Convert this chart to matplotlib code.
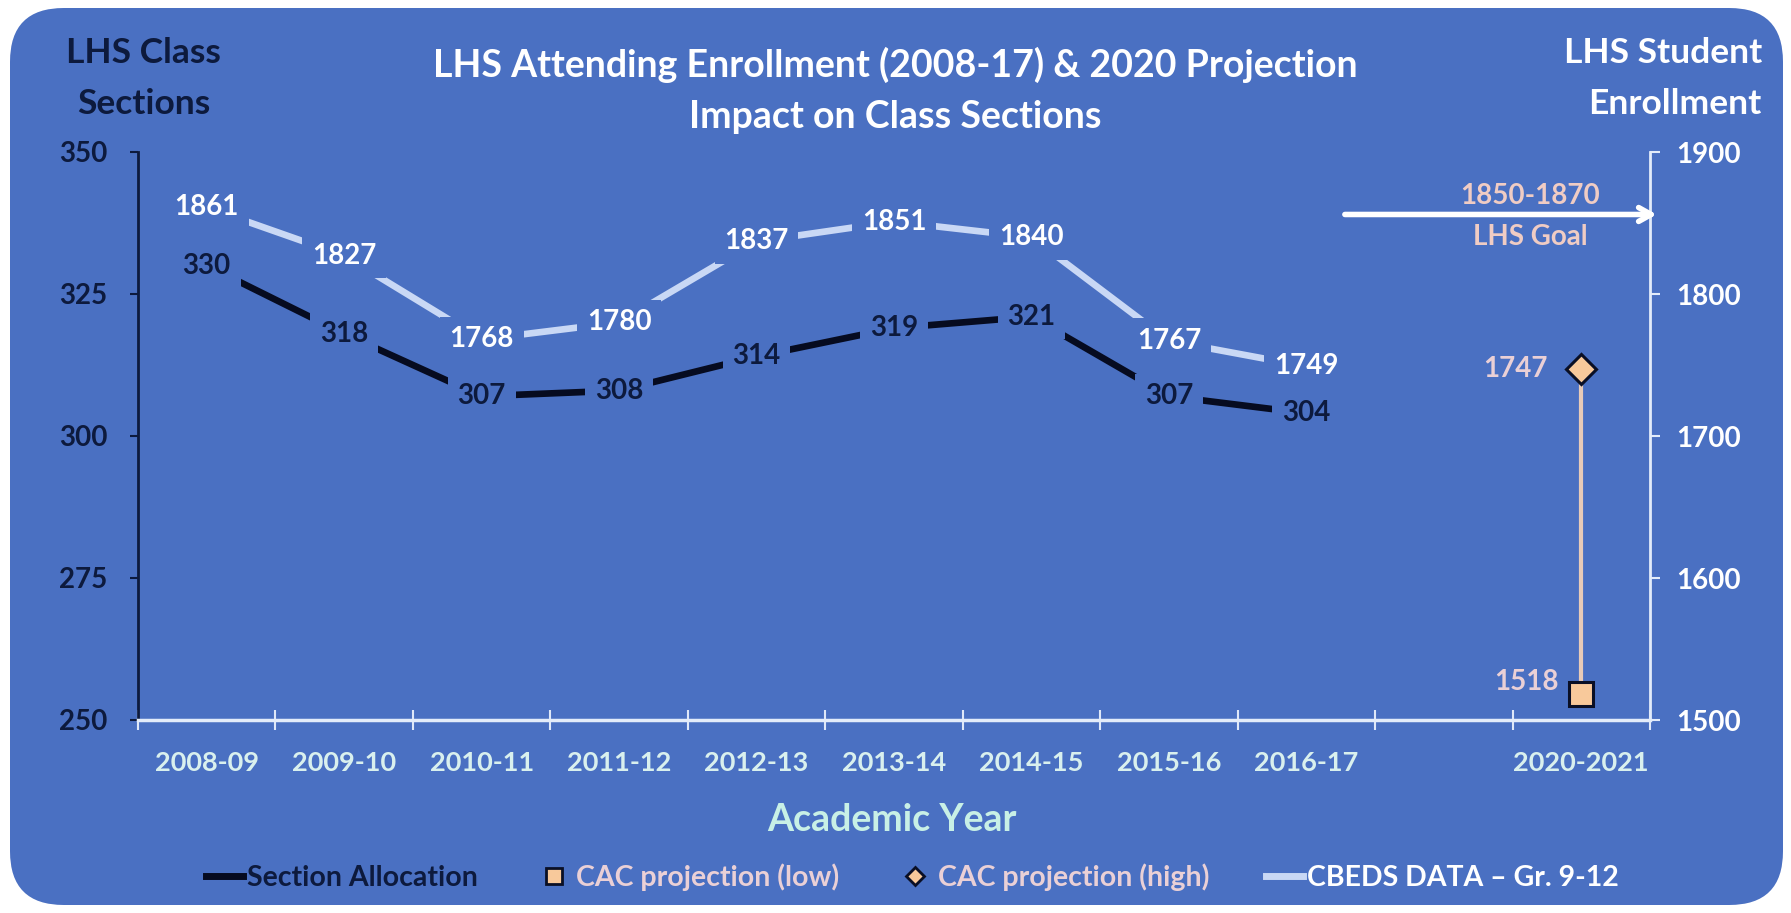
import matplotlib
matplotlib.use("Agg")
import matplotlib.pyplot as plt
from matplotlib.patches import FancyBboxPatch
from matplotlib.lines import Line2D

plt.rcParams['font.family'] = ['Lato', 'DejaVu Sans']
plt.rcParams['font.weight'] = 'bold'

# ---------------- data ----------------
categories = ["2008-09", "2009-10", "2010-11", "2011-12", "2012-13", "2013-14",
              "2014-15", "2015-16", "2016-17", "", "2020-2021"]
years_idx = list(range(9))
section_allocation = [330, 318, 307, 308, 314, 319, 321, 307, 304]
cbeds_enrollment = [1861, 1827, 1768, 1780, 1837, 1851, 1840, 1767, 1749]
proj_idx = 10
cac_low = 1518
cac_high = 1747
goal_text = "1850-1870"
goal_value = 1856
left_ticks = [250, 275, 300, 325, 350]
right_ticks = [1500, 1600, 1700, 1800, 1900]

# ---------------- colours ----------------
BG = '#4a70c2'
NAVY = '#0d1a3d'
SECT = '#060b20'
CBEDS = '#c9d8f5'
PEACH = '#f8c99b'
PINK = '#ead0d6'
CYAN = '#d9f0ee'

W, H = 1791, 913
S = W / 1568.0
fig = plt.figure(figsize=(W / 100, H / 100), dpi=100)
fig.patch.set_facecolor('white')
bg = FancyBboxPatch((10 / W, 8 / H), (1773) / W, (897) / H,
                    boxstyle="round,pad=0,rounding_size=0.03",
                    transform=fig.transFigure, facecolor=BG, edgecolor='none',
                    zorder=-10, mutation_aspect=W / H)
fig.patches.append(bg)

ax = fig.add_axes([138 / W, 1 - 720 / H, (1650 - 138) / W, (720 - 152) / H])
ax.set_facecolor('none')
ax2 = ax.twinx()

# left axis
ax.set_xlim(-0.5, 10.5)
ax.set_ylim(250, 350)
ax.set_yticks(left_ticks)
ax.set_yticklabels([str(t) for t in left_ticks], fontsize=20, color=NAVY, fontweight='bold')
ax.tick_params(axis='y', colors=NAVY, length=6, width=1.5, direction='out', pad=16)
for lab in ax.get_yticklabels():
    lab.set_color(NAVY)

ax.set_xticks(range(len(categories)))
ax.set_xticklabels(categories, fontsize=19.5, color=CYAN, fontweight='bold')
ax.set_xticks([i - 0.5 for i in range(len(categories) + 1)], minor=True)
ax.tick_params(axis='x', which='major', length=0, pad=22)
ax.tick_params(axis='x', which='minor', length=14, width=1.5, direction='inout', color='#dfe8f8')

for s in ['top']:
    ax.spines[s].set_visible(False)
    ax2.spines[s].set_visible(False)
ax.spines['left'].set_color(NAVY)
ax.spines['left'].set_linewidth(2)
ax.spines['bottom'].set_color('#e3ecfa')
ax.spines['bottom'].set_linewidth(2.5)
ax.spines['right'].set_visible(False)
ax2.spines['left'].set_visible(False)
ax2.spines['bottom'].set_visible(False)
ax2.spines['right'].set_color('#e3ecfa')
ax2.spines['right'].set_linewidth(2)

ax2.set_ylim(1500, 1900)
ax2.set_yticks(right_ticks)
ax2.set_yticklabels([str(t) for t in right_ticks], fontsize=20, color='white', fontweight='bold')
ax2.tick_params(axis='y', colors='#e3ecfa', length=7, width=1.5, direction='out', pad=12)
for lab in ax2.get_yticklabels():
    lab.set_color('white')

# series
ax.plot(years_idx, section_allocation, color=SECT, lw=4.8, solid_capstyle='butt', zorder=3)
ax2.plot(years_idx, cbeds_enrollment, color=CBEDS, lw=4.8, solid_capstyle='butt', zorder=3)

lbl_box = dict(boxstyle='square,pad=0.35', facecolor=BG, edgecolor='none')
for x, v in zip(years_idx, section_allocation):
    ax.text(x, v, str(v), ha='center', va='center', fontsize=20, color=NAVY,
            fontweight='bold', bbox=lbl_box, zorder=5)
for x, v in zip(years_idx, cbeds_enrollment):
    ax2.text(x, v, str(v), ha='center', va='center', fontsize=20, color='white',
             fontweight='bold', bbox=lbl_box, zorder=5)

# projection
ax2.plot([proj_idx, proj_idx], [cac_low, cac_high], color='#e8cbb8', lw=3, zorder=4)
ax2.plot([proj_idx], [cac_low], marker='s', ms=17, color=PEACH, mec='#0a0f25', mew=2.2,
         zorder=6, clip_on=False)
ax2.plot([proj_idx], [cac_high], marker='D', ms=15, color=PEACH, mec='#0a0f25', mew=2.2,
         zorder=6, clip_on=False)
ax2.annotate(str(cac_high), (proj_idx, cac_high), xytext=(-24, 0), textcoords='offset points',
             ha='right', va='center', fontsize=20, color=PINK, fontweight='bold')
ax2.annotate(str(cac_low), (proj_idx, cac_low), xytext=(-16, 9), textcoords='offset points',
             ha='right', va='center', fontsize=20, color=PINK, fontweight='bold')

# goal arrow
ax2.annotate('', xy=(10.57, goal_value), xytext=(8.26, goal_value),
             arrowprops=dict(arrowstyle='->,head_length=0.9,head_width=0.5', color='white', lw=4),
             annotation_clip=False, zorder=6)
ax2.text(9.63, 1869, goal_text, ha='center', va='center', fontsize=20, color='#f0ccc4',
         fontweight='bold', zorder=7)
ax2.text(9.63, 1840, "LHS Goal", ha='center', va='center', fontsize=20, color='#f0ccc4',
         fontweight='bold', zorder=7)

# titles
fig.text(784 * S / W, 1 - 57 * S / H,
         "LHS Attending Enrollment (2008-17) & 2020 Projection",
         ha='center', va='center', fontsize=27, color='white', fontweight='bold')
fig.text(784 * S / W, 1 - 102 * S / H, "Impact on Class Sections",
         ha='center', va='center', fontsize=27, color='white', fontweight='bold')
fig.text(126 * S / W, 1 - 46 * S / H, "LHS Class",
         ha='center', va='center', fontsize=25.5, color=NAVY, fontweight='bold')
fig.text(126 * S / W, 1 - 91 * S / H, "Sections",
         ha='center', va='center', fontsize=25.5, color=NAVY, fontweight='bold')
fig.text(1456 * S / W, 1 - 46 * S / H, "LHS Student",
         ha='center', va='center', fontsize=25.5, color='white', fontweight='bold')
fig.text(1466 * S / W, 1 - 91 * S / H, "Enrollment",
         ha='center', va='center', fontsize=25.5, color='white', fontweight='bold')
fig.text(781 * S / W, 1 - 718 * S / H, "Academic Year",
         ha='center', va='center', fontsize=27, color='#c8f0e6', fontweight='bold')

# legend
handles = [
    Line2D([], [], color=SECT, lw=5),
    Line2D([], [], ls='none', marker='s', ms=11, color=PEACH, mec='#0a0f25', mew=2),
    Line2D([], [], ls='none', marker='D', ms=9, color=PEACH, mec='#0a0f25', mew=2),
    Line2D([], [], color=CBEDS, lw=5),
]
labels = ["Section Allocation", "CAC projection (low)", "CAC projection (high)",
          "CBEDS DATA \u2013 Gr. 9-12"]
leg = fig.legend(handles, labels, loc='center', bbox_to_anchor=(799 / 1568, 1 - 768 / 799),
                 ncol=4, frameon=False, fontsize=20.5, handlelength=1.3, handletextpad=0.15,
                 columnspacing=2.0,
                 labelcolor=[NAVY, PINK, PINK, 'white'])
for t in leg.get_texts():
    t.set_fontweight('bold')

fig.savefig('out.png', dpi=100, facecolor='white')
